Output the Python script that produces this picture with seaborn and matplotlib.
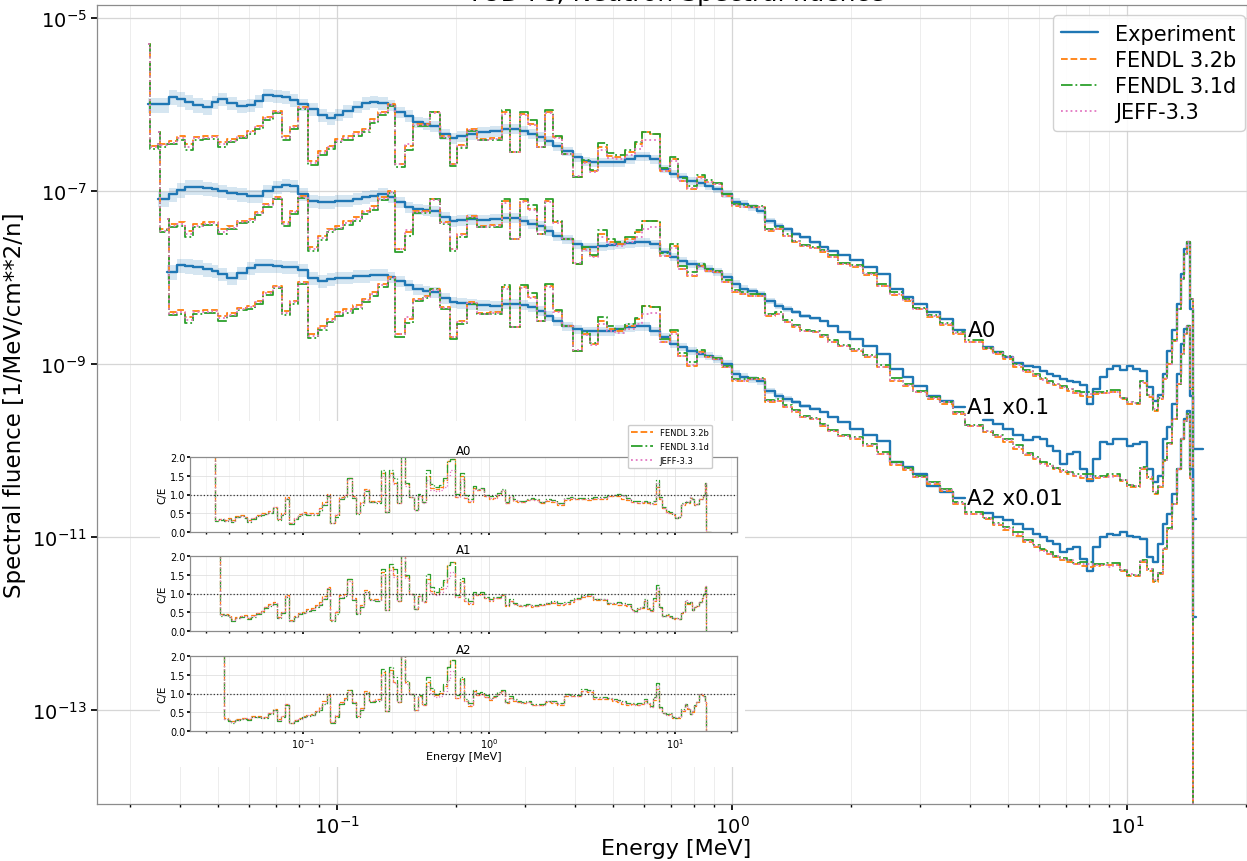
import numpy as np
import matplotlib
matplotlib.use("Agg")
import matplotlib.pyplot as plt
from matplotlib.lines import Line2D
from matplotlib.patches import Rectangle
from matplotlib.ticker import NullLocator, FormatStrFormatter
import seaborn as sns

nan = np.nan

# Energy bin edges [MeV]
e_edges = [0.0332, 0.0336, 0.0352, 0.0356, 0.0371, 0.0375, 0.0394, 0.0412, 0.0432, 0.0458,
           0.0483, 0.0500, 0.0527, 0.0558, 0.0592, 0.0620, 0.0650, 0.0689, 0.0726, 0.0760,
           0.0797, 0.0845, 0.0895, 0.0943, 0.0988, 0.1036, 0.1098, 0.1157, 0.1212, 0.1270,
           0.1346, 0.1402, 0.1486, 0.1558, 0.1651, 0.1719, 0.1823, 0.1932, 0.2013, 0.2134,
           0.2262, 0.2439, 0.2617, 0.2742, 0.2906, 0.3045, 0.3209, 0.3362, 0.3523, 0.3711,
           0.3958, 0.4172, 0.4371, 0.4579, 0.4826, 0.5056, 0.5360, 0.5681, 0.5918, 0.6201,
           0.6573, 0.6966, 0.7300, 0.7693, 0.8153, 0.8542, 0.8952, 0.9434, 1.000, 1.048,
           1.098, 1.157, 1.212, 1.285, 1.346, 1.419, 1.486, 1.576, 1.671, 1.750,
           1.855, 1.990, 2.146, 2.328, 2.512, 2.710, 2.872, 3.117, 3.363, 3.626,
           3.890, 4.319, 4.579, 4.855, 5.145, 5.454, 5.781, 6.022, 6.274, 6.498,
           6.768, 7.050, 7.300, 7.603, 7.919, 8.201, 8.543, 8.901, 9.217, 9.601,
           10.00, 10.36, 10.79, 11.24, 11.64, 11.98, 12.33, 12.63, 13.00, 13.38,
           13.70, 13.94, 14.19, 14.44, 14.70, 14.95, 15.57]

# Measured spectral fluence [1/MeV/cm**2/n]
exp_a0 = [1.0e-6, 1.0e-6, 1.0e-6, 1.0e-6, 1.0e-6, 1.22e-6, 1.16e-6, 1.07e-6, 9.9e-7, 9.4e-7,
          1.07e-6, 1.16e-6, 1.04e-6, 9.6e-7, 9.9e-7, 1.10e-6, 1.29e-6, 1.25e-6, 1.22e-6, 1.13e-6,
          1.0e-6, 8.9e-7, 7.6e-7, 7.0e-7, 7.6e-7, 8.4e-7, 9.4e-7, 1.04e-6, 1.07e-6, 1.04e-6,
          9.9e-7, 8.2e-7, 7.4e-7, 6.3e-7, 6.0e-7, 5.65e-7, 4.56e-7, 4.10e-7, 4.32e-7, 4.56e-7,
          4.81e-7, 4.94e-7, 5.21e-7, 5.21e-7, 4.94e-7, 4.56e-7, 4.21e-7, 3.79e-7, 3.32e-7, 2.90e-7,
          2.47e-7, 2.22e-7, 2.16e-7, 2.16e-7, 2.16e-7, 2.16e-7, 2.34e-7, 2.54e-7, 2.54e-7, 2.34e-7,
          1.80e-7, 1.57e-7, 1.45e-7, 1.31e-7, 1.24e-7, 1.14e-7, 1.05e-7, 9.2e-8, 7.5e-8, 7.1e-8,
          6.5e-8, 5.9e-8, 4.5e-8, 3.9e-8, 3.6e-8, 3.2e-8, 2.9e-8, 2.57e-8, 2.25e-8, 2.02e-8,
          1.82e-8, 1.59e-8, 1.32e-8, 1.10e-8, 7.4e-9, 6.0e-9, 4.9e-9, 4.0e-9, 3.3e-9, 2.5e-9,
          nan, 1.57e-9, 1.38e-9, 1.20e-9, 1.03e-9, 9.5e-10, 9.2e-10, 8.3e-10, 7.7e-10, 7.3e-10,
          6.7e-10, 6.4e-10, 6.2e-10, 5.7e-10, 3.45e-10, 5.1e-10, 7.1e-10, 8.8e-10, 9.5e-10, 8.5e-10,
          9.5e-10, 8.8e-10, 8.3e-10, 5.4e-10, 3.7e-10, 4.4e-10, 7.7e-10, 1.41e-9, 2.5e-9, 4.9e-9,
          1.10e-8, 2.13e-8, 2.57e-8, 4.3e-9, 1.04e-10, 1.04e-10]

exp_a1 = [nan, nan, 8.1e-7, 8.1e-7, 8.1e-7, 9.2e-7, 1.03e-6, 1.11e-6, 1.11e-6, 1.08e-6,
          1.05e-6, 1.0e-6, 9.5e-7, 9.2e-7, 8.76e-7, 8.76e-7, 1.0e-6, 1.11e-6, 1.17e-6, 1.14e-6,
          9.2e-7, 7.67e-7, 7.47e-7, 7.47e-7, 7.67e-7, 7.67e-7, 8.1e-7, 8.5e-7, 8.76e-7, 9.2e-7,
          8.5e-7, 7.47e-7, 6.54e-7, 6.2e-7, 6.0e-7, 5.87e-7, 5.0e-7, 4.5e-7, 4.63e-7, 4.75e-7,
          4.63e-7, 4.75e-7, 4.87e-7, 4.87e-7, 4.5e-7, 4.15e-7, 3.94e-7, 3.45e-7, 3.02e-7, 2.79e-7,
          2.44e-7, 2.25e-7, 2.25e-7, 2.31e-7, 2.38e-7, 2.44e-7, 2.50e-7, 2.57e-7, 2.57e-7, 2.44e-7,
          1.97e-7, 1.73e-7, 1.55e-7, 1.43e-7, 1.36e-7, 1.25e-7, 1.16e-7, 1.01e-7, 8.42e-8, 7.37e-8,
          7.0e-8, 6.45e-8, 5.35e-8, 4.69e-8, 4.32e-8, 3.99e-8, 3.59e-8, 3.40e-8, 3.14e-8, 2.75e-8,
          2.34e-8, 1.95e-8, 1.61e-8, 1.31e-8, 8.8e-9, 7.1e-9, 5.6e-9, 4.3e-9, 3.7e-9, 3.2e-9,
          nan, 2.25e-9, 2.0e-9, 1.77e-9, 1.51e-9, 1.32e-9, 1.43e-9, 1.36e-9, 1.13e-9, 9.9e-10,
          7.0e-10, 9.1e-10, 9.6e-10, 6.1e-10, 4.44e-10, 8.0e-10, 1.25e-9, 1.19e-9, 1.36e-9, 1.36e-9,
          1.13e-9, 1.19e-9, 1.25e-9, 6.1e-10, 4.32e-10, 5.08e-10, 1.36e-9, 1.87e-9, 3.45e-9, 7.67e-9,
          1.7e-8, 2.54e-8, 2.75e-8, 4.3e-9, 1.6e-10, nan]

exp_a2 = [nan, nan, nan, nan, 1.16e-6, 1.16e-6, 1.39e-6, 1.36e-6, 1.32e-6, 1.25e-6,
          1.19e-6, 1.10e-6, 9.9e-7, 1.13e-6, 1.29e-6, 1.39e-6, 1.39e-6, 1.36e-6, 1.32e-6, 1.32e-6,
          1.22e-6, 9.9e-7, 9.1e-7, 9.6e-7, 9.9e-7, 9.9e-7, 1.04e-6, 1.04e-6, 1.07e-6, 1.07e-6,
          1.01e-6, 9.1e-7, 8.2e-7, 7.37e-7, 7.0e-7, 6.81e-7, 5.8e-7, 5.21e-7, 5.08e-7, 4.94e-7,
          4.81e-7, 4.69e-7, 4.94e-7, 4.94e-7, 4.81e-7, 4.56e-7, 4.10e-7, 3.59e-7, 3.14e-7, 2.75e-7,
          2.54e-7, 2.41e-7, 2.41e-7, 2.41e-7, 2.41e-7, 2.54e-7, 2.68e-7, 2.75e-7, 2.75e-7, 2.41e-7,
          2.05e-7, 1.70e-7, 1.57e-7, 1.41e-7, 1.31e-7, 1.24e-7, 1.14e-7, 1.0e-7, 7.7e-8, 7.1e-8,
          6.7e-8, 6.36e-8, 4.87e-8, 4.27e-8, 3.94e-8, 3.64e-8, 3.27e-8, 3.02e-8, 2.79e-8, 2.44e-8,
          2.13e-8, 1.77e-8, 1.51e-8, 1.29e-8, 7.4e-9, 6.45e-9, 5.35e-9, 3.89e-9, 3.31e-9, 2.82e-9,
          nan, 1.89e-9, 1.70e-9, 1.57e-9, 1.41e-9, 1.24e-9, 1.08e-9, 1.0e-9, 9.0e-10, 8.3e-10,
          6.7e-10, 7.27e-10, 7.67e-10, 5.57e-10, 4.05e-10, 7.67e-10, 1.0e-9, 1.08e-9, 1.05e-9, 1.14e-9,
          1.03e-9, 1.0e-9, 9.5e-10, 5.87e-10, 5.14e-10, 8.3e-10, 1.41e-9, 1.85e-9, 3.14e-9, 6.12e-9,
          1.36e-8, 2.31e-8, 2.86e-8, 6.1e-9, 1.2e-10, nan]

# relative uncertainty of the measurement (proton recoil part only)
exp_unc = [0.20, 0.20, 0.20, 0.20, 0.20, 0.19, 0.19, 0.19, 0.19, 0.19,
           0.18, 0.18, 0.18, 0.18, 0.18, 0.18, 0.18, 0.17, 0.17, 0.17,
           0.17, 0.17, 0.17, 0.17, 0.16, 0.16, 0.16, 0.16, 0.16, 0.16,
           0.15, 0.15, 0.15, 0.15, 0.15, 0.15, 0.15, 0.14, 0.14, 0.14,
           0.14, 0.14, 0.13, 0.13, 0.13, 0.13, 0.13, 0.13, 0.12, 0.12,
           0.12, 0.12, 0.12, 0.12, 0.12, 0.12, 0.12, 0.12, 0.12, 0.12,
           0.11, 0.11, 0.11, 0.11, 0.11, 0.11, 0.10, 0.10, 0.10, 0.10,
           0.09, 0.09, 0.08, 0.08, 0.07, 0.06, 0.05, 0.04, 0.03, 0.03,
           0.03, 0.03, 0.03, 0.03, 0.03, 0.03, 0.03, 0.03, 0.03, 0.03,
           nan, nan, nan, nan, nan, nan, nan, nan, nan, nan,
           nan, nan, nan, nan, nan, nan, nan, nan, nan, nan,
           nan, nan, nan, nan, nan, nan, nan, nan, nan, nan,
           nan, nan, nan, nan, nan, nan]

# Calculated spectra, FENDL 3.2b
fendl32_a0 = [5.0e-6, 3.32e-7, 3.5e-7, 3.5e-7, 3.5e-7, 3.79e-7, 4.32e-7, 3.5e-7, 4.21e-7, 4.32e-7,
              4.32e-7, 3.69e-7, 3.99e-7, 4.32e-7, 4.94e-7, 5.65e-7, 7.18e-7, 8.42e-7, 4.32e-7, 5.65e-7,
              9.37e-7, 2.22e-7, 2.90e-7, 3.32e-7, 3.99e-7, 4.32e-7, 4.81e-7, 5.21e-7, 6.81e-7, 8.2e-7,
              1.0e-6, 2.05e-7, 3.32e-7, 5.96e-7, 5.96e-7, 8.2e-7, 4.32e-7, 2.05e-7, 3.40e-7, 5.21e-7,
              3.99e-7, 4.10e-7, 8.2e-7, 2.82e-7, 7.78e-7, 5.96e-7, 3.23e-7, 8.2e-7, 4.21e-7, 2.68e-7,
              1.45e-7, 2.16e-7, 1.70e-7, 3.23e-7, 2.54e-7, 2.47e-7, 2.82e-7, 3.5e-7, 4.81e-7, 4.56e-7,
              1.70e-7, 2.34e-7, 1.31e-7, 1.05e-7, 1.45e-7, 1.27e-7, 1.20e-7, 8.76e-8, 6.7e-8, 6.5e-8,
              6.5e-8, 6.5e-8, 3.45e-8, 3.64e-8, 3.02e-8, 2.57e-8, 2.31e-8, 2.19e-8, 1.97e-8, 1.73e-8,
              1.43e-8, 1.32e-8, 1.07e-8, 7.99e-9, 6.28e-9, 5.35e-9, 4.32e-9, 3.50e-9, 2.82e-9, 2.22e-9,
              1.80e-9, 1.49e-9, 1.31e-9, 1.14e-9, 9.2e-10, 8.1e-10, 7.3e-10, 6.7e-10, 6.0e-10, 5.7e-10,
              5.28e-10, 4.87e-10, 4.63e-10, 4.27e-10, 4.15e-10, 4.50e-10, 4.63e-10, 4.75e-10, 4.75e-10, 3.94e-10,
              3.45e-10, 3.45e-10, 6.0e-10, 4.15e-10, 2.86e-10, 3.94e-10, 6.7e-10, 1.0e-9, 1.85e-9, 4.32e-9,
              9.6e-9, 1.87e-8, 2.57e-8, 5.65e-9, 1e-20, 1e-20]

fendl32_a1 = [nan, nan, 4.8e-6, 3.6e-7, 3.6e-7, 4.15e-7, 4.4e-7, 3.45e-7, 4.15e-7, 4.4e-7,
              4.4e-7, 3.6e-7, 3.94e-7, 4.5e-7, 4.75e-7, 5.72e-7, 7.08e-7, 8.5e-7, 4.4e-7, 5.87e-7,
              8.76e-7, 2.25e-7, 3.02e-7, 3.64e-7, 3.94e-7, 4.5e-7, 5.0e-7, 5.87e-7, 6.7e-7, 8.5e-7,
              1.0e-6, 2.13e-7, 3.36e-7, 5.87e-7, 5.87e-7, 8.1e-7, 4.4e-7, 2.13e-7, 3.18e-7, 5.14e-7,
              3.94e-7, 4.05e-7, 7.67e-7, 2.79e-7, 7.67e-7, 6.2e-7, 3.18e-7, 7.67e-7, 4.4e-7, 2.79e-7,
              1.43e-7, 2.13e-7, 1.77e-7, 3.18e-7, 2.57e-7, 2.44e-7, 2.79e-7, 3.36e-7, 4.5e-7, 4.5e-7,
              1.77e-7, 2.31e-7, 1.25e-7, 1.04e-7, 1.36e-7, 1.19e-7, 1.16e-7, 8.9e-8, 6.81e-8, 6.45e-8,
              6.12e-8, 6.12e-8, 3.59e-8, 3.79e-8, 3.06e-8, 2.68e-8, 2.41e-8, 2.34e-8, 2.05e-8, 1.80e-8,
              1.61e-8, 1.41e-8, 1.20e-8, 9.2e-9, 6.36e-9, 5.57e-9, 4.75e-9, 3.94e-9, 3.45e-9, 2.64e-9,
              1.92e-9, 1.64e-9, 1.43e-9, 1.25e-9, 1.04e-9, 8.88e-10, 8.0e-10, 7.18e-10, 6.6e-10, 6.1e-10,
              5.65e-10, 5.35e-10, 5.08e-10, 4.81e-10, 4.69e-10, 4.81e-10, 4.94e-10, 5.08e-10, 5.08e-10, 4.44e-10,
              3.79e-10, 3.79e-10, 6.1e-10, 4.69e-10, 3.14e-10, 3.79e-10, 7.57e-10, 1.19e-9, 2.3e-9, 5.87e-9,
              1.31e-8, 2.22e-8, 2.75e-8, 5.14e-9, 1e-20, 1e-20]

fendl32_a2 = [nan, nan, nan, nan, 4.75e-6, 4.0e-7, 4.21e-7, 3.50e-7, 4.10e-7, 4.21e-7,
              4.21e-7, 3.59e-7, 3.89e-7, 4.44e-7, 4.69e-7, 5.35e-7, 6.81e-7, 7.99e-7, 4.10e-7, 5.35e-7,
              8.88e-7, 2.22e-7, 2.75e-7, 3.31e-7, 3.99e-7, 4.32e-7, 4.81e-7, 5.65e-7, 6.81e-7, 8.42e-7,
              1.01e-6, 2.22e-7, 3.31e-7, 5.65e-7, 6.12e-7, 7.37e-7, 4.56e-7, 2.05e-7, 3.14e-7, 5.21e-7,
              3.89e-7, 3.99e-7, 7.78e-7, 2.68e-7, 7.78e-7, 5.96e-7, 3.14e-7, 7.99e-7, 4.10e-7, 2.75e-7,
              1.41e-7, 2.22e-7, 1.70e-7, 3.14e-7, 2.54e-7, 2.41e-7, 2.75e-7, 3.31e-7, 4.69e-7, 4.56e-7,
              1.80e-7, 2.34e-7, 1.24e-7, 9.5e-8, 1.38e-7, 1.20e-7, 1.14e-7, 9.2e-8, 6.36e-8, 6.36e-8,
              6.7e-8, 6.7e-8, 3.64e-8, 3.74e-8, 3.18e-8, 2.79e-8, 2.44e-8, 2.31e-8, 1.92e-8, 1.68e-8,
              1.47e-8, 1.36e-8, 1.13e-8, 9.1e-9, 6.81e-9, 5.96e-9, 4.94e-9, 4.10e-9, 3.40e-9, 2.41e-9,
              1.85e-9, 1.61e-9, 1.38e-9, 1.20e-9, 1.03e-9, 8.76e-10, 7.67e-10, 7.08e-10, 6.36e-10, 5.87e-10,
              5.42e-10, 5.14e-10, 4.87e-10, 4.63e-10, 4.50e-10, 4.63e-10, 4.75e-10, 4.75e-10, 4.75e-10, 4.05e-10,
              3.54e-10, 3.54e-10, 5.14e-10, 4.05e-10, 3.02e-10, 3.74e-10, 7.27e-10, 1.24e-9, 2.41e-9, 6.12e-9,
              1.36e-8, 2.19e-8, 2.64e-8, 4.69e-9, 1e-20, 1e-20]

# FENDL 3.1d and JEFF-3.3 relative to FENDL 3.2b
fendl31_ratio = [1.0, 0.92, 1.0, 0.92, 1.0, 0.92, 0.90, 0.85, 0.93, 0.92,
                 0.93, 0.88, 0.92, 0.94, 0.93, 0.92, 0.93, 0.94, 0.90, 0.92,
                 0.95, 0.90, 0.90, 0.92, 0.91, 0.90, 0.90, 0.92, 0.90, 0.93,
                 0.95, 0.92, 0.90, 0.94, 0.95, 1.0, 0.95, 0.95, 0.92, 0.95,
                 0.96, 0.94, 1.05, 1.0, 1.05, 1.10, 1.0, 1.05, 1.02, 1.0,
                 1.0, 1.05, 1.02, 1.10, 1.08, 1.05, 1.05, 1.04, 1.0, 1.0,
                 1.08, 1.05, 1.08, 1.10, 1.05, 1.04, 1.03, 1.04, 1.06, 1.05,
                 1.04, 1.04, 1.05, 1.06, 1.05, 1.04, 1.03, 1.04, 1.05, 1.04,
                 1.03, 1.05, 1.06, 1.05, 1.07, 1.04, 1.03, 1.05, 1.06, 1.05,
                 1.04, 1.03, 1.05, 1.08, 1.10, 1.06, 1.04, 1.03, 1.05, 1.04,
                 1.06, 1.05, 1.04, 1.10, 1.15, 1.05, 1.03, 1.04, 1.05, 1.03,
                 1.04, 1.03, 1.06, 1.05, 1.04, 1.03, 1.02, 1.02, 1.01, 1.0,
                 1.0, 1.0, 1.0, 1.0, 1.0, 1.0]

jeff33_ratio = [1.0, 0.96, 1.0, 0.96, 1.0, 0.95, 0.95, 0.92, 0.96, 0.95,
                0.96, 0.94, 0.95, 0.97, 0.96, 0.96, 0.97, 0.97, 0.95, 0.96,
                0.98, 0.95, 0.95, 0.96, 0.95, 0.95, 0.95, 0.96, 0.95, 0.96,
                0.98, 1.0, 1.05, 0.97, 0.98, 0.97, 0.98, 1.0, 0.97, 0.97,
                0.98, 0.97, 0.95, 1.0, 0.96, 0.97, 1.0, 0.98, 0.97, 1.0,
                1.02, 0.98, 0.97, 0.93, 0.95, 0.95, 0.92, 0.88, 0.80, 0.85,
                1.0, 0.95, 1.0, 1.02, 0.98, 1.0, 1.0, 1.0, 1.02, 1.0,
                1.0, 1.01, 1.02, 1.0, 1.01, 1.02, 1.0, 1.01, 1.02, 1.0,
                1.01, 1.03, 1.02, 1.01, 1.03, 1.02, 1.0, 1.02, 1.04, 1.02,
                1.01, 1.02, 1.03, 1.05, 1.06, 1.03, 1.02, 0.98, 1.0, 1.02,
                1.03, 1.05, 1.0, 1.06, 1.08, 1.02, 1.0, 0.96, 1.0, 1.03,
                1.05, 1.02, 1.04, 1.06, 1.05, 1.03, 1.02, 1.0, 1.0, 1.0,
                1.0, 1.0, 1.0, 1.0, 1.0, 1.0]

positions = ['A0', 'A1', 'A2']
scales = [1.0, 0.1, 0.01]
tags = ['A0', 'A1 x0.1', 'A2 x0.01']


def ext(v):
    # repeat last value so step(where='post') closes the last bin
    v = np.asarray(v, dtype=float)
    return np.append(v, v[-1])


sns.set_theme(style='whitegrid', rc={
    'axes.edgecolor': '0.55', 'axes.linewidth': 0.9,
    'xtick.bottom': True, 'ytick.left': True,
    'xtick.major.size': 4, 'ytick.major.size': 4,
    'xtick.minor.size': 2.5, 'ytick.minor.size': 0,
    'xtick.color': 'black', 'ytick.color': 'black',
    'text.color': 'black', 'axes.labelcolor': 'black',
    'legend.edgecolor': '0.8'})
pal = sns.color_palette('tab10')
col_exp, col_32, col_31, col_jeff = pal[0], pal[1], pal[2], pal[6]

edges = np.array(e_edges)
exp_all = [np.array(exp_a0), np.array(exp_a1), np.array(exp_a2)]
calc_all = [np.array(fendl32_a0), np.array(fendl32_a1), np.array(fendl32_a2)]
r31 = np.array(fendl31_ratio)
rjeff = np.array(jeff33_ratio)
unc = np.array(exp_unc)

fig = plt.figure(figsize=(12.47, 8.62), dpi=100)

# Main plot
ax = fig.add_axes([97 / 1247, 57 / 862, 1158 / 1247, 799 / 862])
ax.set_xscale('log')
ax.set_yscale('log')

for exp, calc, s, tag in zip(exp_all, calc_all, scales, tags):
    e = exp * s
    c = calc * s
    ax.fill_between(edges, ext(e * (1 - unc)), ext(e * (1 + unc)), step='post',
                    color=col_exp, alpha=0.18, lw=0)
    ax.step(edges, ext(e), where='post', color=col_exp, lw=1.7)
    ax.step(edges, ext(c), where='post', color=col_32, ls='--', lw=1.3)
    ax.step(edges, ext(c * r31), where='post', color=col_31, ls='-.', lw=1.3)
    ax.step(edges, ext(c * rjeff), where='post', color=col_jeff, ls=':', lw=1.3)
    ax.text(edges[90] * 1.015, e[89], tag, fontsize=15.5, va='center', ha='left')

ax.set_xlim(0.0247, 21.1)
ax.set_ylim(8.2e-15, 1.41e-5)
ax.set_yticks([1e-5, 1e-7, 1e-9, 1e-11, 1e-13])
ax.yaxis.set_minor_locator(NullLocator())
ax.tick_params(labelsize=14)
ax.grid(True, which='major', color='0.84', lw=0.9)
ax.grid(True, which='minor', axis='x', color='0.93', lw=0.7)
ax.set_xlabel('Energy [MeV]', fontsize=16, labelpad=1)
ax.set_ylabel('Spectral fluence [1/MeV/cm**2/n]', fontsize=16.5)
ax.set_title('TUD Fe, Neutron Spectral fluence', fontsize=18, pad=2)

handles = [Line2D([], [], color=col_exp, lw=1.7, label='Experiment'),
           Line2D([], [], color=col_32, lw=1.3, ls='--', label='FENDL 3.2b'),
           Line2D([], [], color=col_31, lw=1.3, ls='-.', label='FENDL 3.1d'),
           Line2D([], [], color=col_jeff, lw=1.3, ls=':', label='JEFF-3.3')]
ax.legend(handles=handles, loc='upper right', fontsize=15, framealpha=0.9,
          handlelength=1.8, labelspacing=0.3)

# White background for the C/E inset
box = Rectangle((160 / 1247, 94 / 862), 585 / 1247, 346 / 862, transform=fig.transFigure,
                facecolor='white', edgecolor='none', zorder=1)
fig.add_artist(box)

ins_bottom = [329, 230, 130]
for k in range(3):
    iax = fig.add_axes([190 / 1247, ins_bottom[k] / 862, 547 / 1247, 75 / 862])
    iax.set_zorder(2)
    iax.set_xscale('log')
    exp = exp_all[k]
    calc = calc_all[k]
    libs = [(calc / exp, col_32, '--'),
            (calc * r31 / exp, col_31, '-.'),
            (calc * rjeff / exp, col_jeff, ':')]
    for ce, col, ls in libs:
        sns.lineplot(x=edges, y=ext(ce), ax=iax, color=col, linestyle=ls, linewidth=0.9,
                     drawstyle='steps-post', estimator=None, errorbar=None, legend=False)
    iax.axhline(1.0, color='0.2', ls=':', lw=0.9)
    iax.set_xlim(0.0247, 21.5)
    iax.set_ylim(0, 2)
    iax.set_yticks([0, 0.5, 1.0, 1.5, 2.0])
    iax.yaxis.set_major_formatter(FormatStrFormatter('%.1f'))
    iax.tick_params(labelsize=7, length=2, pad=1.5)
    iax.tick_params(which='minor', length=1.2)
    iax.grid(True, which='major', color='0.88', lw=0.6)
    iax.grid(True, which='minor', axis='x', color='0.94', lw=0.5)
    iax.set_title(positions[k], fontsize=8.5, pad=2)
    iax.set_ylabel('C/E', fontsize=7.5, labelpad=2)
    if k < 2:
        iax.tick_params(labelbottom=False)
        iax.set_xlabel('')
    else:
        iax.set_xlabel('Energy [MeV]', fontsize=8, labelpad=1)
    if k == 0:
        iax.legend(handles=handles[1:], loc='upper right', bbox_to_anchor=(0.954, 1.43),
                   borderaxespad=0, fontsize=6, handlelength=2.6, labelspacing=0.6,
                   framealpha=1.0)

fig.savefig('out.png', dpi=100)
